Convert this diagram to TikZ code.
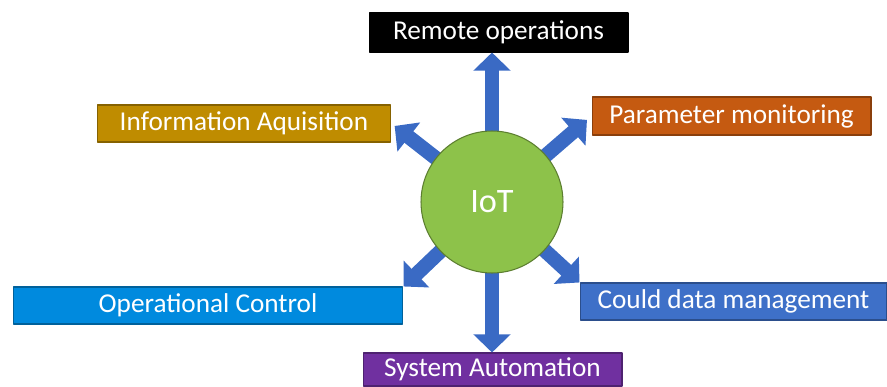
\documentclass[tikz,border=0pt]{standalone}
\usepackage{fontspec}
\setmainfont{Carlito}
\usetikzlibrary{arrows.meta}
\definecolor{infogold}{RGB}{191,140,0}
\definecolor{paramorange}{RGB}{197,90,17}
\definecolor{opblue}{RGB}{0,138,222}
\definecolor{cloudblue}{RGB}{62,112,200}
\definecolor{autopurple}{RGB}{112,48,160}
\definecolor{hubgreen}{RGB}{141,194,74}
\definecolor{spokeblue}{RGB}{58,106,196}
\begin{document}
\begin{tikzpicture}[x=0.02cm,y=-0.02cm,line join=round,
  box/.style={draw=#1!70!black,line width=0.6pt,fill=#1,text=white,inner sep=0pt,
    minimum height=0.74cm,font=\fontsize{15.5}{18}\selectfont},
  spoke/.style={line width=0.29cm,draw=spokeblue,-{Triangle[width=0.72cm,length=0.36cm]}}]
\useasboundingbox (0,0) rectangle (887,386);

    \node[box=black,draw=black,minimum width=5.18cm,minimum height=0.78cm] (remote) at (498.5,32.5) {Remote operations};
    \node[box=infogold,minimum width=5.88cm] (info) at (244,123.5) {Information Aquisition};
    \node[box=paramorange,minimum width=5.58cm,minimum height=0.76cm] (param) at (731.5,116) {Parameter monitoring};
    \node[box=opblue,minimum width=7.8cm] (opctl) at (208,305.5) {Operational Control};
    \node[box=cloudblue,minimum width=6.14cm] (cloud) at (733.5,301.5) {Could data management};
    \node[box=autopurple,minimum width=5.18cm,minimum height=0.66cm] (sysaut) at (492.5,369.5) {System Automation};

    \coordinate (c) at (492,202);
\draw[spoke](c)--(c|-remote.south);
\draw[spoke,shorten >=0.08cm](c)--(info.east);
\draw[spoke,shorten >=0.12cm](c)--(param.west);
\draw[spoke](c)--(opctl.north east);
\draw[spoke](c)--(cloud.north west);
\draw[spoke](c)--(c|-sysaut.north);

    \node[circle,draw=hubgreen!65!black,line width=0.6pt,fill=hubgreen,text=white,
      minimum size=2.84cm,font=\fontsize{19.5}{22}\selectfont] (iot) at (c) {IoT};
  \end{tikzpicture}
\end{document}
